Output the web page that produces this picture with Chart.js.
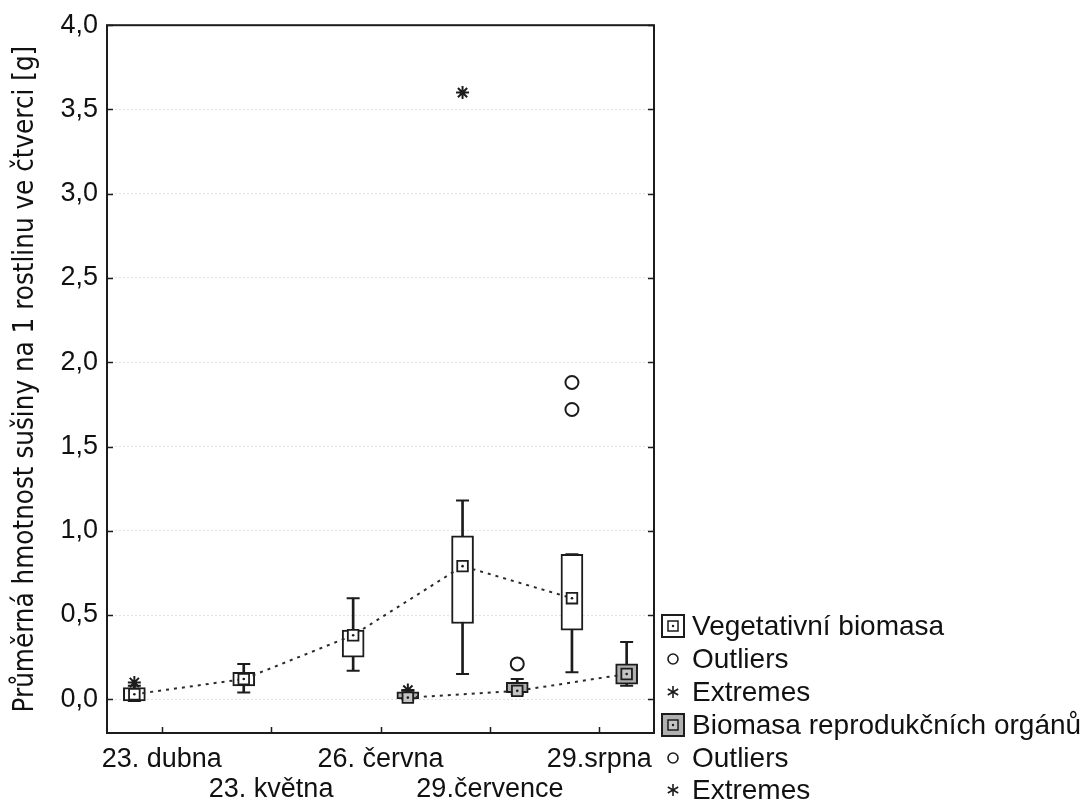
<!DOCTYPE html>
<html>
<head>
<meta charset="utf-8">
<script src="https://cdn.jsdelivr.net/npm/chart.js@4/dist/chart.umd.min.js"></script>
<style>
  body { margin: 0; background: #fff; }
  #wrap { position: relative; width: 1085px; height: 809px; }
  #legend { position: absolute; left: 660px; top: 610px; font-family: "Liberation Sans", Arial, sans-serif; font-size: 28px; color: #111; }
  #legend .row { height: 32.8px; display: flex; align-items: center; white-space: nowrap; }
  #legend svg { width: 26px; height: 26px; margin-right: 6px; flex: none; }
</style>
</head>
<body>
<div id="wrap">
  <canvas id="boxChart" width="1085" height="809"></canvas>
  <div id="legend"></div>
</div>
<script>
// Biomasa - box plot per sampling date

const categories = ['23. dubna', '23. května', '26. června', '29.července', '29.srpna'];
const labelRow = [0, 1, 0, 1, 0];
const yTicks = [0, 0.5, 1, 1.5, 2, 2.5, 3, 3.5, 4];

// Vegetativní biomasa
const vegMean      = [0.03, 0.12, 0.38, 0.79, 0.60];
const vegBoxLow    = [-0.01, 0.08, 0.25, 0.45, 0.41];
const vegBoxHigh   = [0.07, 0.16, 0.41, 0.97, 0.86];
const vegWhiskLow  = [-0.01, 0.04, 0.17, 0.15, 0.16];
const vegWhiskHigh = [0.08, 0.21, 0.60, 1.18, 0.86];
const vegOutliers  = [[], [], [], [], [1.72, 1.88]];
const vegExtremes  = [[0.10], [], [], [3.60], []];

// Biomasa reprodukčních orgánů
const repMean      = [null, null, 0.01, 0.05, 0.15];
const repBoxLow    = [null, null, 0.00, 0.04, 0.09];
const repBoxHigh   = [null, null, 0.045, 0.10, 0.21];
const repWhiskLow  = [null, null, 0.00, 0.03, 0.08];
const repWhiskHigh = [null, null, 0.05, 0.12, 0.34];
const repOutliers  = [[], [], [], [0.21], []];
const repExtremes  = [[], [], [0.055], [], []];

const VEG_OFF = -0.25;
const REP_OFF = 0.25;
const INK = '#1c1c1c';

function pts(values, off) {
    return values.map((v, i) => v == null ? null : { x: i + off, y: v }).filter(Boolean);
}
function ranges(lows, highs, off) {
    return lows.map((lo, i) => lo == null ? null : { x: i + off, y: [lo, highs[i]] }).filter(Boolean);
}
function groups(lists, off) {
    const out = [];
    lists.forEach((list, i) => list.forEach(v => out.push({ x: i + off, y: v })));
    return out;
}

function boxSet(label, lows, highs, off, fill) {
    return {
        type: 'bar', label: label, order: 3, grouped: false,
        data: ranges(lows, highs, off),
        barThickness: 22, backgroundColor: fill,
        borderColor: INK, borderWidth: 2, borderSkipped: false
    };
}
function whiskerSet(lows, highs, off) {
    return {
        type: 'bar', order: 5, grouped: false,
        data: ranges(lows, highs, off),
        barThickness: 2, backgroundColor: INK, borderWidth: 0
    };
}
function capSet(lows, highs, off) {
    return {
        type: 'scatter', order: 4,
        data: pts(lows, off).concat(pts(highs, off)),
        pointStyle: 'line', pointRadius: 6.5, pointBorderWidth: 2, pointBorderColor: INK
    };
}
function meanSet(values, off, fill) {
    return {
        type: 'line', order: 1,
        data: pts(values, off),
        borderColor: '#2a2a2a', borderWidth: 2, borderDash: [3, 5], fill: false, tension: 0,
        pointStyle: 'rect', pointRadius: 7.5, pointBorderWidth: 1.8,
        pointBorderColor: INK, pointBackgroundColor: fill
    };
}
function markSet(data, style) {
    return {
        type: 'scatter', order: 1, data: data,
        pointStyle: style, pointRadius: 6.5, pointBorderWidth: 2,
        pointBorderColor: INK, pointBackgroundColor: 'rgba(255,255,255,0)'
    };
}

// frame round the plot with inward tick marks
const framePlugin = {
    id: 'frame',
    afterDraw(chart) {
        const { ctx, chartArea: a, scales } = chart;
        ctx.save();
        ctx.strokeStyle = INK;
        ctx.lineWidth = 2;
        ctx.strokeRect(a.left, a.top, a.right - a.left, a.bottom - a.top);
        ctx.beginPath();
        yTicks.forEach(v => {
            const y = Math.round(scales.y.getPixelForValue(v)) + 0.5;
            ctx.moveTo(a.left, y); ctx.lineTo(a.left + 6, y);
            ctx.moveTo(a.right, y); ctx.lineTo(a.right - 6, y);
        });
        categories.forEach((c, i) => {
            const x = Math.round(scales.x.getPixelForValue(i)) + 0.5;
            ctx.moveTo(x, a.bottom); ctx.lineTo(x, a.bottom - 6);
        });
        ctx.lineWidth = 1.5;
        ctx.stroke();
        ctx.restore();
    }
};

const ctx = document.getElementById('boxChart');
new Chart(ctx, {
    type: 'bar',
    data: {
        datasets: [
            meanSet(vegMean, VEG_OFF, '#fff'),
            meanSet(repMean, REP_OFF, '#c4c4c4'),
            { type: 'scatter', order: 0, data: pts(vegMean, VEG_OFF).concat(pts(repMean, REP_OFF)),
              pointRadius: 1.3, pointBorderWidth: 0, pointBackgroundColor: INK },
            markSet(groups(vegOutliers, VEG_OFF).concat(groups(repOutliers, REP_OFF)), 'circle'),
            markSet(groups(vegExtremes, VEG_OFF).concat(groups(repExtremes, REP_OFF)), 'star'),
            boxSet('Vegetativní biomasa', vegBoxLow, vegBoxHigh, VEG_OFF, '#fff'),
            boxSet('Biomasa reprodukčních orgánů', repBoxLow, repBoxHigh, REP_OFF, '#b0b0b0'),
            capSet(vegWhiskLow, vegWhiskHigh, VEG_OFF),
            capSet(repWhiskLow, repWhiskHigh, REP_OFF),
            whiskerSet(vegWhiskLow, vegWhiskHigh, VEG_OFF),
            whiskerSet(repWhiskLow, repWhiskHigh, REP_OFF)
        ]
    },
    options: {
        responsive: false,
        animation: false,
        events: [],
        layout: { padding: { top: 22, right: 431, left: 0, bottom: 0 } },
        plugins: { legend: { display: false }, tooltip: { enabled: false } },
        scales: {
            x: {
                type: 'linear', min: -0.5, max: 4.5, offset: false,
                afterBuildTicks: s => { s.ticks = categories.map((c, i) => ({ value: i })); },
                afterFit: s => { s.height = 76; },
                grid: { display: false, drawTicks: false },
                border: { display: false },
                ticks: {
                    autoSkip: false, maxRotation: 0, minRotation: 0, padding: 12,
                    color: '#111', font: { family: 'Liberation Sans', size: 27, lineHeight: 1.1 },
                    callback: v => {
                        const i = Math.round(v);
                        return labelRow[i] ? ['', categories[i]] : [categories[i], ''];
                    }
                }
            },
            y: {
                min: -0.2, max: 4.0,
                afterBuildTicks: s => { s.ticks = yTicks.map(v => ({ value: v })); },
                afterFit: s => { s.width = 107; },
                grid: { color: '#e2e2e2', lineWidth: 1, drawTicks: false },
                border: { display: false, dash: [2, 2] },
                ticks: {
                    padding: 9, color: '#111', font: { family: 'Liberation Sans', size: 27 },
                    callback: v => v.toFixed(1).replace('.', ',')
                },
                title: {
                    display: true, text: 'Průměrná hmotnost sušiny na 1 rostlinu ve čtverci [g]',
                    color: '#111', padding: { top: 9, bottom: 2 },
                    font: { family: "'Liberation Sans Narrow', 'DejaVu Sans Condensed', sans-serif", size: 27.5 }
                }
            }
        }
    },
    plugins: [framePlugin]
});

// legend rows
const boxIcon = fill => `<svg viewBox="0 0 26 26"><rect x="2" y="2" width="22" height="22" fill="${fill}" stroke="${INK}" stroke-width="2"/>` +
    `<rect x="8" y="8" width="10" height="10" fill="${fill === '#fff' ? '#fff' : '#c4c4c4'}" stroke="${INK}" stroke-width="1.5"/><circle cx="13" cy="13" r="1.2" fill="${INK}"/></svg>`;
const circleIcon = `<svg viewBox="0 0 26 26"><circle cx="13" cy="13" r="5" fill="none" stroke="${INK}" stroke-width="1.6"/></svg>`;
const starIcon = `<svg viewBox="0 0 26 26"><g stroke="${INK}" stroke-width="1.6"><line x1="13" y1="7" x2="13" y2="19"/><line x1="7.8" y1="10" x2="18.2" y2="16"/><line x1="7.8" y1="16" x2="18.2" y2="10"/></g></svg>`;
const legendRows = [
    [boxIcon('#fff'), 'Vegetativní biomasa'],
    [circleIcon, 'Outliers'],
    [starIcon, 'Extremes'],
    [boxIcon('#b0b0b0'), 'Biomasa reprodukčních orgánů'],
    [circleIcon, 'Outliers'],
    [starIcon, 'Extremes']
];
document.getElementById('legend').innerHTML = legendRows
    .map(r => `<div class="row">${r[0]}<span>${r[1]}</span></div>`).join('');
</script>
</body>
</html>
